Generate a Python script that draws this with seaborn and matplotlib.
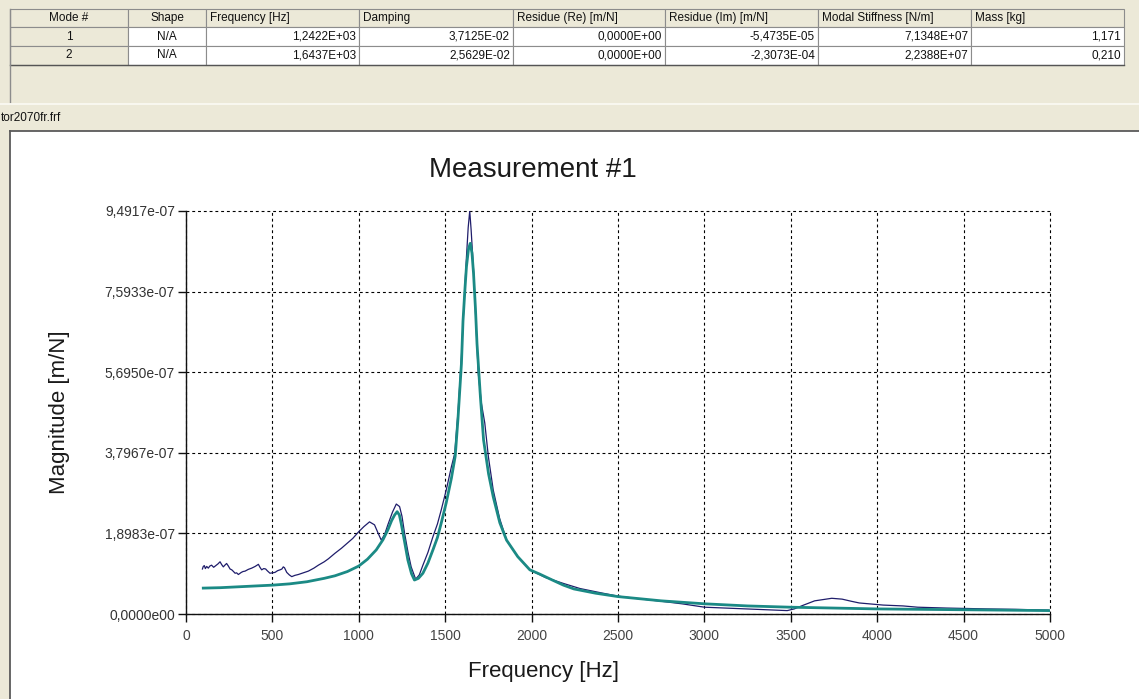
import numpy as np
import pandas as pd
import matplotlib
matplotlib.use("Agg")
import matplotlib.pyplot as plt
import seaborn as sns
from matplotlib.patches import Rectangle
from matplotlib.lines import Line2D

# ---------------- data ----------------
table_headers = ["Mode #", "Shape", "Frequency [Hz]", "Damping", "Residue (Re) [m/N]",
                 "Residue (Im) [m/N]", "Modal Stiffness [N/m]", "Mass [kg]"]
mode_ids = ["1", "2"]
mode_shapes = ["N/A", "N/A"]
mode_frequency = ["1,2422E+03", "1,6437E+03"]
mode_damping = ["3,7125E-02", "2,5629E-02"]
residue_re = ["0,0000E+00", "0,0000E+00"]
residue_im = ["-5,4735E-05", "-2,3073E-04"]
modal_stiffness = ["7,1348E+07", "2,2388E+07"]
modal_mass = ["1,171", "0,210"]
file_name = "tor2070fr.frf"
chart_title = "Measurement #1"
x_label = "Frequency [Hz]"
y_label = "Magnitude [m/N]"

# measured FRF magnitude (units of 1e-7 m/N)
measured_freq = [95, 100, 106, 112, 120, 129, 138, 148, 160, 172, 185, 197, 207, 216, 225,
                 235, 245, 255, 265, 275, 284, 293, 303, 320, 330, 342, 360, 380, 400,
                 419, 428, 438, 450, 461, 470, 486, 500, 515, 530, 544, 555, 563, 570,
                 583, 598, 612, 630, 650, 680, 708, 740, 766, 800, 824, 862, 900, 931,
                 965, 1000, 1030, 1062, 1091, 1110, 1130, 1150, 1168, 1195, 1217, 1236,
                 1250, 1265, 1285, 1303, 1329, 1350, 1371, 1400, 1429, 1455, 1477, 1506,
                 1536, 1555, 1575, 1594, 1608, 1623, 1633, 1642, 1650, 1665, 1680, 1691,
                 1710, 1729, 1750, 1778, 1815, 1855, 1920, 1990, 2080, 2184, 2280, 2400,
                 2500, 2620, 2750, 2870, 3001, 3120, 3240, 3360, 3479, 3520, 3568, 3638,
                 3737, 3797, 3850, 3896, 4035, 4150, 4234, 4400, 4632, 4800, 4990]
measured_mag_e7 = [1.06, 1.12, 1.14, 1.07, 1.12, 1.08, 1.13, 1.15, 1.10, 1.14, 1.18, 1.23,
                   1.16, 1.11, 1.15, 1.19, 1.13, 1.06, 1.04, 1.00, 0.96, 0.97, 0.93, 0.98,
                   1.00, 1.01, 1.05, 1.08, 1.12, 1.17, 1.10, 1.04, 1.07, 1.06, 1.02, 0.96,
                   0.97, 0.98, 1.02, 1.04, 1.06, 1.11, 1.09, 0.98, 0.92, 0.88, 0.91, 0.93,
                   0.97, 1.01, 1.08, 1.15, 1.23, 1.30, 1.43, 1.55, 1.66, 1.78, 1.94, 2.06,
                   2.17, 2.10, 1.92, 1.74, 1.88, 2.10, 2.40, 2.59, 2.53, 2.30, 1.90, 1.45,
                   1.11, 0.82, 0.92, 1.15, 1.45, 1.82, 2.12, 2.45, 2.92, 3.47, 3.78, 4.80,
                   6.06, 7.25, 8.41, 9.10, 9.4917, 9.05, 8.03, 6.70, 5.68, 4.95, 4.50, 3.70,
                   2.92, 2.25, 1.74, 1.35, 1.04, 0.86, 0.72, 0.60, 0.50, 0.42, 0.36, 0.30,
                   0.24, 0.16, 0.14, 0.12, 0.10, 0.08, 0.12, 0.20, 0.31, 0.37, 0.35, 0.30,
                   0.26, 0.21, 0.19, 0.16, 0.14, 0.12, 0.11, 0.09]

# fitted (synthesised) FRF magnitude (units of 1e-7 m/N)
fitted_freq = [100, 200, 300, 400, 502, 600, 700, 800, 862, 934, 1000, 1050, 1101, 1140,
               1168, 1190, 1207, 1222, 1235, 1245, 1265, 1284, 1305, 1322, 1345, 1371,
               1400, 1429, 1455, 1477, 1506, 1536, 1558, 1574, 1594, 1603, 1615, 1623,
               1635, 1645, 1655, 1664, 1675, 1684, 1704, 1722, 1751, 1778, 1816, 1855,
               1920, 1990, 2047, 2120, 2184, 2245, 2370, 2500, 2750, 3001, 3250, 3498,
               3750, 3996, 4500, 5000]
fitted_mag_e7 = [0.61, 0.62, 0.64, 0.66, 0.68, 0.71, 0.76, 0.84, 0.90, 1.00, 1.13, 1.29,
                 1.51, 1.75, 1.98, 2.20, 2.33, 2.41, 2.33, 2.14, 1.70, 1.27, 0.95, 0.80,
                 0.84, 0.96, 1.20, 1.51, 1.80, 2.14, 2.62, 3.20, 3.72, 4.60, 5.90, 6.90,
                 7.70, 8.18, 8.60, 8.73, 8.50, 8.02, 7.20, 6.37, 5.10, 4.10, 3.30, 2.76,
                 2.15, 1.74, 1.35, 1.04, 0.94, 0.80, 0.68, 0.59, 0.49, 0.41, 0.31, 0.24,
                 0.19, 0.16, 0.14, 0.12, 0.10, 0.08]

x_ticks = [0, 500, 1000, 1500, 2000, 2500, 3000, 3500, 4000, 4500, 5000]
y_ticks = [0.0, 1.8983e-07, 3.7967e-07, 5.6950e-07, 7.5933e-07, 9.4917e-07]
y_tick_labels = ["0,0000e00", "1,8983e-07", "3,7967e-07", "5,6950e-07", "7,5933e-07", "9,4917e-07"]

# ---------------- figure / layout ----------------
plt.rcParams["font.family"] = ["Liberation Sans", "DejaVu Sans"]
W, H = 1139, 699
fig = plt.figure(figsize=(W / 100, H / 100), dpi=100)
fig.patch.set_facecolor("#ECE9D8")


def fx(x):
    return x / W


def fy(y):
    return 1 - y / H


def rect(x0, y0, x1, y1, **kw):
    fig.add_artist(Rectangle((fx(x0), fy(y1)), fx(x1) - fx(x0), fy(y0) - fy(y1),
                             transform=fig.transFigure, **kw))


def hline(x0, x1, y, **kw):
    fig.add_artist(Line2D([fx(x0), fx(x1)], [fy(y), fy(y)], transform=fig.transFigure, **kw))


def vline(x, y0, y1, **kw):
    fig.add_artist(Line2D([fx(x), fx(x)], [fy(y0), fy(y1)], transform=fig.transFigure, **kw))


# table
col_edges = [10, 128, 206, 359, 513, 665, 818, 971, 1124]
row_edges = [9, 27, 46, 65]
rows = list(zip(mode_ids, mode_shapes, mode_frequency, mode_damping, residue_re,
                residue_im, modal_stiffness, modal_mass))
for r in range(3):
    for c in range(8):
        x0, x1 = col_edges[c], col_edges[c + 1]
        y0, y1 = row_edges[r], row_edges[r + 1]
        face = "#ECE9D8" if (r == 0 or c == 0) else "white"
        rect(x0, y0, x1, y1, facecolor=face, edgecolor="#8c8c8c", linewidth=0.8, zorder=1)
        ymid = (y0 + y1) / 2
        if r == 0:
            txt = table_headers[c]
            if c < 2:
                fig.text(fx((x0 + x1) / 2), fy(ymid), txt, ha="center", va="center",
                         fontsize=8.5, color="#111111")
            else:
                fig.text(fx(x0 + 4), fy(ymid), txt, ha="left", va="center",
                         fontsize=8.5, color="#111111")
        else:
            txt = rows[r - 1][c]
            if c < 2:
                fig.text(fx((x0 + x1) / 2), fy(ymid), txt, ha="center", va="center",
                         fontsize=8.5, color="#111111")
            else:
                fig.text(fx(x1 - 3), fy(ymid), txt, ha="right", va="center",
                         fontsize=8.5, color="#111111")
hline(10, 1124, 65, color="#555555", linewidth=1.0)
vline(10, 9, 102, color="#8c8c8c", linewidth=1.0)
hline(0, W, 104, color="#fbfaf4", linewidth=1.2)
fig.text(fx(1), fy(118), file_name, ha="left", va="center", fontsize=8.5, color="#111111")

# chart panel
rect(10, 131, W + 2, H + 2, facecolor="white", edgecolor="none", zorder=0)
hline(10, W, 131, color="#5a5a5a", linewidth=1.3)
vline(10, 131, H, color="#5a5a5a", linewidth=1.3)

# axes
ax = fig.add_axes([fx(186), fy(614), fx(1050) - fx(186), fy(211) - fy(614)])
ax.set_facecolor("white")

measured_df = pd.DataFrame({"Frequency": measured_freq,
                            "Magnitude": np.array(measured_mag_e7) * 1e-7})
fitted_df = pd.DataFrame({"Frequency": fitted_freq,
                          "Magnitude": np.array(fitted_mag_e7) * 1e-7})

sns.lineplot(data=measured_df, x="Frequency", y="Magnitude", ax=ax, color="#1f1d6b",
             linewidth=0.9, sort=False, estimator=None, zorder=3)
sns.lineplot(data=fitted_df, x="Frequency", y="Magnitude", ax=ax, color="#1b8a85",
             linewidth=2.0, sort=False, estimator=None, zorder=4)

ax.set_xlim(0, 5000)
ax.set_ylim(0, 9.4917e-07)
ax.set_xticks(x_ticks)
ax.set_xticklabels([str(t) for t in x_ticks])
ax.set_yticks(y_ticks)
ax.set_yticklabels(y_tick_labels)
ax.set_xlabel("")
ax.set_ylabel("")
ax.grid(True, color="black", linestyle=(0, (2.6, 2.6)), linewidth=0.8, zorder=1)
ax.set_axisbelow(True)
for gl in ax.get_xgridlines() + ax.get_ygridlines():
    gl.set_clip_on(False)
for s in ["top", "right"]:
    ax.spines[s].set_visible(False)
for s in ["left", "bottom"]:
    ax.spines[s].set_color("#111111")
    ax.spines[s].set_linewidth(1.0)
    ax.spines[s].set_zorder(5)
ax.tick_params(axis="both", direction="out", length=6, width=1, labelsize=10,
               color="#111111", labelcolor="#333333")
ax.tick_params(axis="y", pad=2)
ax.tick_params(axis="x", pad=5, labelcolor="#444444")

fig.text(fx(533), fy(170), chart_title, ha="center", va="center", fontsize=20, color="#1a1a1a")
fig.text(fx(543), fy(672), x_label, ha="center", va="center", fontsize=16, color="#1a1a1a")
fig.text(fx(60), fy(412), y_label, ha="center", va="center", rotation=90, fontsize=16,
         color="#1a1a1a")

fig.savefig("out.png", dpi=100, facecolor=fig.get_facecolor())
